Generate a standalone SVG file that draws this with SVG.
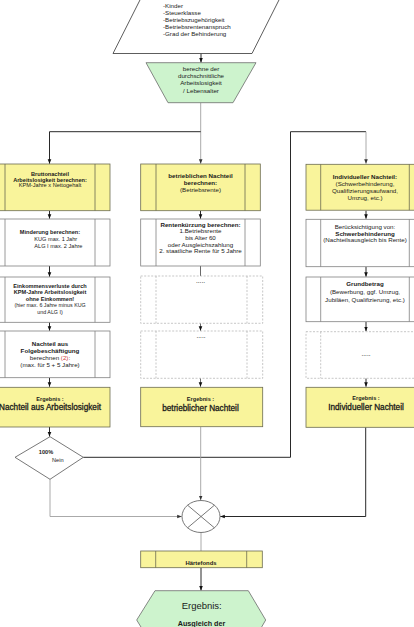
<svg xmlns="http://www.w3.org/2000/svg" width="414" height="627" viewBox="0 0 414 627">
<defs>
<style>
text{font-family:"Liberation Sans",Arial,sans-serif;fill:#1a1a1a}
.c{text-anchor:middle}
.b{font-weight:bold}
.s{font-size:5.6px}
.m{font-size:6.2px}
.l{font-size:8.2px;stroke:#1a1a1a;stroke-width:0.3}
.y{fill:#f9f49b;stroke:#6b6b50;stroke-width:0.8}
.w{fill:#ffffff;stroke:#808080;stroke-width:0.8}
.d{fill:#ffffff;stroke:#b0b0b0;stroke-width:0.7;stroke-dasharray:2,1.5}
.g{fill:#cdf3cd;stroke:#6b6b6b;stroke-width:0.8}
.il{stroke:#6b6b50;stroke-width:0.8}
.iw{stroke:#808080;stroke-width:0.8}
.id{stroke:#b0b0b0;stroke-width:0.7;stroke-dasharray:2,1.5}
.k{fill:none;stroke:#111;stroke-width:0.9}
.gr{fill:none;stroke:#a0a0a0;stroke-width:0.9}
.dk{fill:none;stroke:#444;stroke-width:0.8}
</style>
<marker id="ak" viewBox="0 0 10 10" refX="10" refY="5" markerUnits="userSpaceOnUse" markerWidth="4.5" markerHeight="4.5" orient="auto"><path d="M0,1 L10,5 L0,9 z" fill="#111"/></marker>
<marker id="ag" viewBox="0 0 10 10" refX="10" refY="5" markerUnits="userSpaceOnUse" markerWidth="4.5" markerHeight="4.5" orient="auto"><path d="M0,1 L10,5 L0,9 z" fill="#333"/></marker>
</defs>
<rect width="414" height="627" fill="#ffffff"/>

<g id="connectors">
<line class="k" x1="201" y1="53.5" x2="201" y2="62.5" marker-end="url(#ak)"/>
<line class="gr" x1="200.7" y1="102.7" x2="200.7" y2="163.7" marker-end="url(#ag)"/>
<polyline class="k" points="200.7,131.7 49.5,131.7 49.5,163.7" marker-end="url(#ak)"/>
<polyline class="k" points="83.3,457.3 290.5,457.3 290.5,131.7 366,131.7"/>
<line class="gr" x1="366" y1="131.7" x2="366" y2="163.7" marker-end="url(#ag)"/>
<line class="k" x1="49.5" y1="210.7" x2="49.5" y2="218.7" marker-end="url(#ak)"/>
<line class="k" x1="49.5" y1="266" x2="49.5" y2="276.7" marker-end="url(#ak)"/>
<line class="k" x1="49.5" y1="322.3" x2="49.5" y2="330.7" marker-end="url(#ak)"/>
<line class="k" x1="49.5" y1="377.7" x2="49.5" y2="386.7" marker-end="url(#ak)"/>
<line class="k" x1="49.5" y1="427" x2="49.5" y2="436.5" marker-end="url(#ak)"/>
<line class="k" x1="200.5" y1="210.7" x2="200.5" y2="218.7" marker-end="url(#ak)"/>
<line class="dk" x1="200.5" y1="266" x2="200.5" y2="330.7" marker-end="url(#ak)"/>
<line class="dk" x1="200.5" y1="330.7" x2="200.5" y2="386.7" marker-end="url(#ak)"/>
<line class="k" x1="366" y1="210.7" x2="366" y2="218.7" marker-end="url(#ak)"/>
<line class="k" x1="366" y1="266.5" x2="366" y2="276.7" marker-end="url(#ak)"/>
<line class="k" x1="366" y1="322" x2="366" y2="331.2" marker-end="url(#ak)"/>
<line class="k" x1="366" y1="378.3" x2="366" y2="386.7" marker-end="url(#ak)"/>
<line class="gr" x1="200.7" y1="427" x2="200.7" y2="500.2" marker-end="url(#ag)"/>
<polyline class="gr" points="50,479.3 50,516.5 181.7,516.5" marker-end="url(#ag)"/>
<polyline class="k" points="365.7,427.3 365.7,516.5 220.3,516.5" marker-end="url(#ak)"/>
<line class="gr" x1="201" y1="532.5" x2="201" y2="551"/>
<line class="k" x1="201" y1="567.7" x2="201" y2="590.5" marker-end="url(#ak)"/>
</g>

<g id="input">
<polygon points="113,53.5 252,53.5 283,-8 144,-8" fill="#ffffff" stroke="#333" stroke-width="0.8"/>
<text class="m" x="163" y="7.9">-Kinder</text>
<text class="m" x="163" y="15">-Steuerklasse</text>
<text class="m" x="163" y="22.1">-Betriebszugehörigkeit</text>
<text class="m" x="163" y="29.3">-Betriebsrentenanspruch</text>
<text class="m" x="163" y="36.4">-Grad der Behinderung</text>
</g>

<g id="berechne">
<polygon class="g" points="146,62.7 256,62.7 233,102.7 168,102.7"/>
<text class="m c" x="201" y="70.5">berechne der</text>
<text class="m c" x="201" y="77.9">durchschnittliche</text>
<text class="m c" x="201" y="85.2">Arbeitslosigkeit</text>
<text class="m c" x="201" y="92.9">/ Lebensalter</text>
</g>

<g id="bruttonachteil">
<rect class="y" x="-10" y="164" width="120" height="46.7"/>
<line class="il" x1="5" y1="164" x2="5" y2="210.7"/><line class="il" x1="95" y1="164" x2="95" y2="210.7"/>
<text class="s c b" x="50" y="176">Bruttonachteil</text>
<text class="s c b" x="50" y="181.6">Arbeitslosigkeit berechnen:</text>
<text class="s c" x="50" y="187.2">KPM-Jahre x Nettogehalt</text>
</g>

<g id="minderung">
<rect class="w" x="-10" y="219" width="120" height="47"/>
<line class="iw" x1="5" y1="219" x2="5" y2="266"/><line class="iw" x1="95" y1="219" x2="95" y2="266"/>
<text class="s c b" x="50" y="233.7">Minderung berechnen:</text>
<text class="s" x="34.3" y="241.3">KUG max. 1 Jahr</text>
<text class="s" x="34.3" y="248">ALG I max. 2 Jahre</text>
</g>

<g id="einkommensverluste">
<rect class="w" x="-10" y="277" width="120" height="45.3"/>
<line class="iw" x1="5" y1="277" x2="5" y2="322.3"/><line class="iw" x1="95" y1="277" x2="95" y2="322.3"/>
<text class="s c b" x="50" y="287.5">Einkommensverluste durch</text>
<text class="s c b" x="50" y="294">KPM-Jahre Arbeitslosigkeit</text>
<text class="s c b" x="50" y="300.5">ohne Einkommen!</text>
<text class="c" style="font-size:5.3px" x="50" y="307.3">(hier max. 6 Jahre minus KUG</text>
<text class="c" style="font-size:5.3px" x="50" y="313.5">und ALG I)</text>
</g>

<g id="folgebeschaeftigung">
<rect class="w" x="-10" y="331" width="120" height="46.7"/>
<line class="iw" x1="5" y1="331" x2="5" y2="377.7"/><line class="iw" x1="95" y1="331" x2="95" y2="377.7"/>
<text class="m c b" x="50" y="346.2">Nachteil aus</text>
<text class="m c b" x="50" y="353.2">Folgebeschäftigung</text>
<text class="m c" x="50" y="360.2">berechnen <tspan fill="#d04040">(2)</tspan>:</text>
<text class="m c" x="50" y="367.2">(max. für 5 + 5 Jahre)</text>
</g>

<g id="ergebnis-arbeitslosigkeit">
<rect class="y" x="-10" y="387.3" width="120" height="39.7"/>
<text class="s c b" x="50" y="400.5">Ergebnis :</text>
<text class="l c" x="50" y="410.4">Nachteil aus Arbeitslosigkeit</text>
</g>

<g id="betrieblicher-nachteil">
<rect class="y" x="140.7" y="164" width="119.6" height="46.7"/>
<line class="il" x1="156" y1="164" x2="156" y2="210.7"/><line class="il" x1="245" y1="164" x2="245" y2="210.7"/>
<text class="m c b" x="200.5" y="178">betrieblichen Nachteil</text>
<text class="m c b" x="200.5" y="184.7">berechnen:</text>
<text class="m c" x="200.5" y="192.2">(Betriebsrente)</text>
</g>

<g id="rentenkuerzung">
<rect class="w" x="140.7" y="219" width="119.6" height="47"/>
<line class="iw" x1="156" y1="219" x2="156" y2="266"/><line class="iw" x1="245" y1="219" x2="245" y2="266"/>
<text class="m c b" x="200.5" y="226.5">Rentenkürzung berechnen:</text>
<text class="m c" x="200.5" y="232.9">1.Betriebsrente</text>
<text class="m c" x="200.5" y="239.5">bis Alter 60</text>
<text class="m c" x="200.5" y="246.5">oder Ausgleichszahlung</text>
<text class="m c" x="200.5" y="253.2">2. staatliche Rente für 5 Jahre</text>
</g>

<g id="mitte-leer-1">
<rect class="d" x="140.7" y="276" width="122" height="47.3"/>
<line class="id" x1="156" y1="276" x2="156" y2="323.3"/><line class="id" x1="247" y1="276" x2="247" y2="323.3"/>
<text class="c" style="font-size:6.5px" x="200.5" y="282.5">.....</text>
</g>

<g id="mitte-leer-2">
<rect class="d" x="140.7" y="331" width="122" height="47.3"/>
<line class="id" x1="156" y1="331" x2="156" y2="378.3"/><line class="id" x1="247" y1="331" x2="247" y2="378.3"/>
<text class="c" style="font-size:6.5px" x="201" y="338.3">.....</text>
</g>

<g id="ergebnis-betrieblich">
<rect class="y" x="140.7" y="387.3" width="122" height="39.4"/>
<text class="s c b" x="200.5" y="401.3">Ergebnis :</text>
<text class="l c" x="200.5" y="411.2">betrieblicher Nachteil</text>
</g>

<g id="individueller-nachteil">
<rect class="y" x="306" y="164.3" width="120" height="45.9"/>
<line class="il" x1="320.7" y1="164.3" x2="320.7" y2="210.2"/><line class="il" x1="409.3" y1="164.3" x2="409.3" y2="210.2"/>
<text class="m c b" x="365" y="178.7">Individueller Nachteil:</text>
<text class="m c" x="365" y="185.7">(Schwerbehinderung,</text>
<text class="m c" x="365" y="192.7">Qualifizierungsaufwand,</text>
<text class="m c" x="365" y="199.7">Umzug, etc.)</text>
</g>

<g id="schwerbehinderung">
<rect class="w" x="306" y="219.3" width="120" height="47.4"/>
<line class="iw" x1="320.7" y1="219.3" x2="320.7" y2="266.7"/><line class="iw" x1="409.3" y1="219.3" x2="409.3" y2="266.7"/>
<text class="m c" x="365" y="228.9">Berücksichtigung von:</text>
<text class="m c b" x="365" y="235.5">Schwerbehinderung</text>
<text class="m c" x="365" y="242.2">(Nachteilsausgleich bis Rente)</text>
</g>

<g id="grundbetrag">
<rect class="w" x="306" y="277" width="120" height="44.7"/>
<line class="iw" x1="320.7" y1="277" x2="320.7" y2="321.7"/><line class="iw" x1="409.3" y1="277" x2="409.3" y2="321.7"/>
<text class="m c b" x="365" y="286.2">Grundbetrag</text>
<text class="m c" x="365" y="294.2">(Bewerbung, ggf. Umzug,</text>
<text class="m c" x="365" y="301.7">Jubiläen, Qualifizierung, etc.)</text>
</g>

<g id="rechts-leer">
<rect class="d" x="306" y="331.7" width="120" height="46.6"/>
<line class="id" x1="320.7" y1="331.7" x2="320.7" y2="378.3"/>
<text class="c" style="font-size:6.5px" x="366" y="355.5">.....</text>
</g>

<g id="ergebnis-individuell">
<rect class="y" x="306" y="387.3" width="120" height="40"/>
<text class="s c b" x="366" y="400.3">Ergebnis :</text>
<text class="l c" x="366" y="409.6">Individueller Nachteil</text>
</g>

<g id="entscheidung">
<polygon points="15,457.3 50,436.7 83.3,457.3 50,479.3" fill="#ffffff" stroke="#555" stroke-width="0.8"/>
<text class="s c b" x="46" y="454.3">100%</text>
<text class="s c" x="57.8" y="462">Nein</text>
</g>

<g id="verknuepfung">
<ellipse cx="201" cy="516.5" rx="19" ry="16" fill="#ffffff" stroke="#555" stroke-width="0.8"/>
<line x1="187.6" y1="505.2" x2="214.4" y2="527.8" stroke="#555" stroke-width="0.8"/>
<line x1="214.4" y1="505.2" x2="187.6" y2="527.8" stroke="#555" stroke-width="0.8"/>
</g>

<g id="haertefonds">
<rect class="y" x="140.7" y="551" width="121.6" height="16.7"/>
<line class="il" x1="155.7" y1="551" x2="155.7" y2="567.7"/><line class="il" x1="246.7" y1="551" x2="246.7" y2="567.7"/>
<text class="c b" style="font-size:5.9px" x="201" y="565.4">Härtefonds</text>
</g>

<g id="ergebnis-ausgleich">
<polygon class="g" points="155,590.7 248.3,590.7 265.7,620 248.3,650 155,650 136.7,620"/>
<text class="c" style="font-size:9.5px" x="201.7" y="609">Ergebnis:</text>
<text class="c b" style="font-size:7.2px" x="201.5" y="625.8">Ausgleich der</text>
</g>
</svg>
